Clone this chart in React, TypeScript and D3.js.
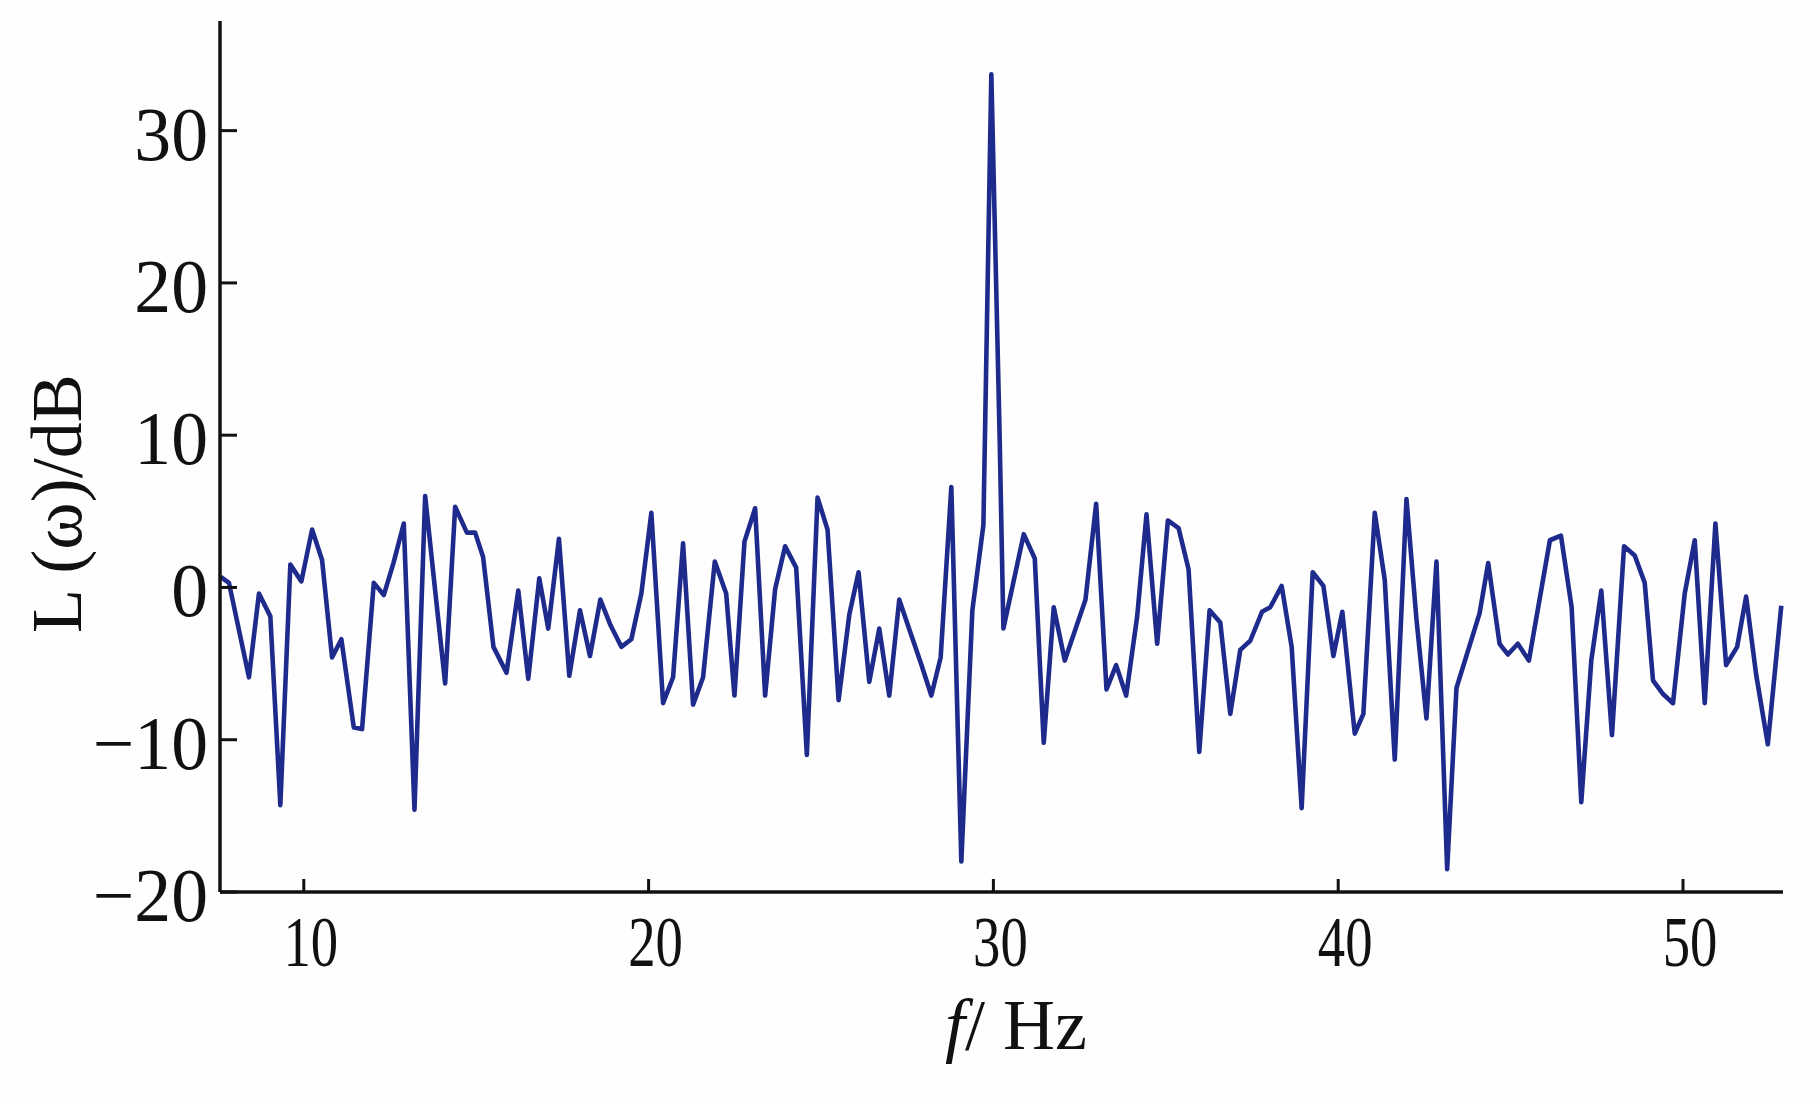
import React from 'react';
import * as d3 from 'd3';

// spectrum: frequency (Hz) and level (dB)
const freqHz = [
  7.59, 7.83, 8.41, 8.70, 9.03, 9.32, 9.61, 9.93, 10.24, 10.53,
  10.82, 11.09, 11.45, 11.69, 12.03, 12.32, 12.60, 12.90, 13.21, 13.52,
  13.81, 14.10, 14.39, 14.73, 14.97, 15.20, 15.50, 15.88, 16.22, 16.51,
  16.83, 17.09, 17.40, 17.70, 18.01, 18.30, 18.60, 18.90, 19.21, 19.50,
  19.79, 20.08, 20.42, 20.71, 21.00, 21.29, 21.58, 21.92, 22.25, 22.49,
  22.78, 23.09, 23.38, 23.67, 23.96, 24.28, 24.59, 24.90, 25.19, 25.51,
  25.82, 26.09, 26.40, 26.69, 26.98, 27.27, 27.60, 27.90, 28.20, 28.47,
  28.78, 29.07, 29.39, 29.71, 29.94, 30.18, 30.29, 30.88, 31.20, 31.46,
  31.75, 32.07, 32.67, 32.98, 33.28, 33.56, 33.85, 34.17, 34.44, 34.75,
  35.06, 35.37, 35.66, 35.97, 36.27, 36.58, 36.87, 37.16, 37.45, 37.79,
  38.03, 38.36, 38.65, 38.94, 39.26, 39.57, 39.86, 40.12, 40.48, 40.73,
  41.06, 41.35, 41.64, 41.98, 42.27, 42.56, 42.85, 43.16, 43.43, 44.10,
  44.35, 44.68, 44.92, 45.21, 45.53, 46.14, 46.46, 46.77, 47.05, 47.34,
  47.63, 47.94, 48.29, 48.60, 48.89, 49.13, 49.42, 49.71, 50.05, 50.34,
  50.63, 50.94, 51.25, 51.57, 51.83, 52.12, 52.46, 52.85,
];

const levelDb = [
  0.7, 0.3, -5.9, -0.4, -1.9, -14.3, 1.5, 0.4, 3.8, 1.8,
  -4.6, -3.4, -9.2, -9.3, 0.3, -0.5, 1.6, 4.2, -14.6, 6.0,
  -0.2, -6.3, 5.3, 3.6, 3.6, 2.0, -3.9, -5.6, -0.2, -6.0,
  0.6, -2.7, 3.2, -5.8, -1.5, -4.5, -0.8, -2.5, -3.9, -3.4,
  -0.4, 4.9, -7.6, -5.9, 2.9, -7.7, -5.9, 1.7, -0.4, -7.1,
  3.0, 5.2, -7.1, -0.1, 2.7, 1.3, -11.0, 5.9, 3.8, -7.4,
  -1.8, 1.0, -6.2, -2.7, -7.1, -0.8, -3.0, -5.0, -7.1, -4.6,
  6.6, -18.0, -1.5, 4.1, 33.7, 10.0, -2.7, 3.5, 1.9, -10.2,
  -1.3, -4.8, -0.8, 5.5, -6.7, -5.1, -7.1, -1.9, 4.8, -3.7,
  4.4, 3.9, 1.2, -10.8, -1.5, -2.3, -8.3, -4.1, -3.5, -1.6,
  -1.3, 0.1, -3.9, -14.5, 1.0, 0.1, -4.5, -1.6, -9.6, -8.3,
  4.9, 0.5, -11.3, 5.8, -2.1, -8.6, 1.7, -18.5, -6.6, -1.7,
  1.6, -3.7, -4.4, -3.7, -4.8, 3.1, 3.4, -1.3, -14.1, -4.8,
  -0.2, -9.7, 2.7, 2.1, 0.3, -6.1, -7.0, -7.6, -0.4, 3.1,
  -7.6, 4.2, -5.1, -3.9, -0.6, -5.7, -10.3, -1.2,
];

const xTicks = [10, 20, 30, 40, 50];
const yTicks = [-20, -10, 0, 10, 20, 30];

const W = 1817;
const H = 1100;
const left = 220;
const right = 1783;
const top = 21;
const bottom = 892;

const serif = '"Liberation Serif", "DejaVu Serif", "Times New Roman", serif';

const App: React.FC = () => {
  const x = d3.scaleLinear().domain([7.57, 52.9]).range([left, right]);
  const y = d3.scaleLinear().domain([-20, 37.2]).range([bottom, top]);

  const pts: [number, number][] = freqHz.map((f, i) => [f, levelDb[i]]);
  const line = d3.line<[number, number]>()
    .x(d => x(d[0]))
    .y(d => y(d[1]));

  const fmt = (v: number) => (v < 0 ? '\u2212' + Math.abs(v) : String(v));

  return (
    <div style={{ position: 'absolute', left: 0, top: 0, width: W, height: H, background: '#fff' }}>
      <svg width={W} height={H} style={{ display: 'block' }}>
        <rect x={0} y={0} width={W} height={H} fill="#fefefe" />

        <path d={line(pts) || ''} fill="none" stroke="#1e2b8c" strokeWidth={4.6} strokeLinejoin="round" />

        {/* axes */}
        <line x1={left} y1={top} x2={left} y2={bottom} stroke="#111" strokeWidth={3.5} />
        <line x1={left} y1={bottom} x2={right} y2={bottom} stroke="#111" strokeWidth={3.5} />

        {yTicks.map(t => (
          <g key={'y' + t}>
            <line x1={left} x2={left + 17} y1={y(t)} y2={y(t)} stroke="#111" strokeWidth={3} />
            <text
              transform={`translate(${left - 12},${y(t) + 29}) scale(0.97,1)`}
              textAnchor="end"
              fontFamily={serif}
              fontSize={76}
              fill="#111"
            >
              {fmt(t)}
            </text>
          </g>
        ))}

        {xTicks.map(t => (
          <g key={'x' + t}>
            <line x1={x(t)} x2={x(t)} y1={bottom} y2={bottom - 13} stroke="#111" strokeWidth={3} />
            <text
              transform={`translate(${x(t) + 7},${bottom + 74}) scale(0.76,1)`}
              textAnchor="middle"
              fontFamily={serif}
              fontSize={72}
              fill="#111"
            >
              {t}
            </text>
          </g>
        ))}

        <text
          transform={`translate(${945},${1049})`}
          fontFamily={serif}
          fontSize={72}
          fill="#111"
        >
          <tspan fontStyle="italic">f</tspan>/ Hz
        </text>

        <text
          transform={`translate(${81},${633}) rotate(-90)`}
          fontFamily={serif}
          fontSize={72}
          fill="#111"
        >
          L (ω)/dB
        </text>
      </svg>
    </div>
  );
};

export default App;
